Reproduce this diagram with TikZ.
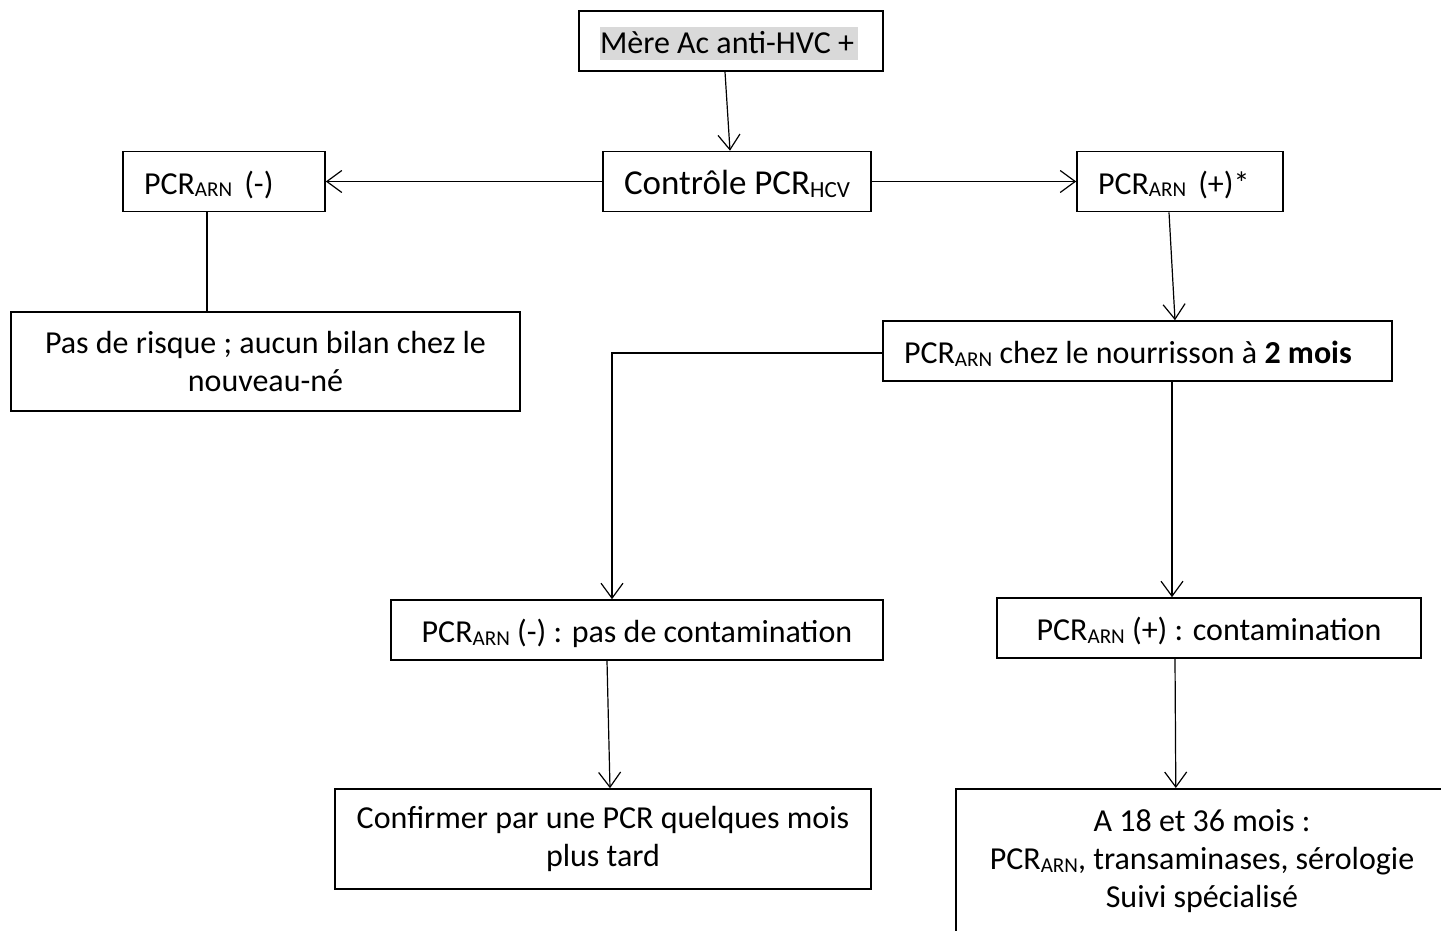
\documentclass[tikz,border=0pt]{standalone}
\usepackage{fontspec}
\setmainfont{Carlito}
\usetikzlibrary{arrows.meta}
\definecolor{hlgray}{RGB}{217,217,217}
\newcommand{\arnsub}[1]{\raisebox{-0.09em}{\scalebox{0.66}{#1}}}

\begin{document}
\begin{tikzpicture}[x=1pt, y=-1pt,
  every node/.style={font=\fontsize{32}{38}\selectfont},
  box/.style={draw, line width=1.6pt, minimum height=60pt, text height=28pt, text depth=3pt, inner sep=0pt},
  leftbox/.style={box, align=flush left, inner xsep=21pt, text width=#1},
  twobox/.style={draw, line width=1.6pt, align=center, inner sep=0pt},
  link/.style={line width=1.2pt},
  arrow/.style={link, -{Straight Barb[length=15pt, width=22pt, line width=1.2pt]}}]
\useasboundingbox (0,0) rectangle (1441,931);

% TOP ROW
\node[leftbox=262pt] (mere) at (731,41) {{\setlength{\fboxsep}{0pt}\colorbox{hlgray}{\rule[-7pt]{0pt}{33pt}Mère Ac anti-HVC +\hspace{4pt}}}};
\node[box, minimum width=268pt, font=\fontsize{35}{42}\selectfont] (ctrl) at (737,181.5) {Contrôle PCR\arnsub{HCV}};
\node[leftbox=160pt] (neg) at (224,181.5) {\mbox{PCR\arnsub{ARN}\hspace{12pt}(-)}};
\node[leftbox=164pt] (pos) at (1180,181.5) {\mbox{PCR\arnsub{ARN}\hspace{12pt}(+)*}};

% MIDDLE ROW
\node[twobox, minimum width=509pt, minimum height=99pt] (risk) at (265.5,361.5) {Pas de risque ; aucun bilan chez le\\nouveau-né};
\node[leftbox=467pt] (nour) at (1137.5,351) {\mbox{PCR\arnsub{ARN} chez le nourrisson à \textbf{2 mois}}};

% RESULTS
\node[box, minimum width=492pt] (negc) at (637,630) {PCR\arnsub{ARN} (-) : pas de contamination};
\node[box, minimum width=424pt] (posc) at (1209,628) {PCR\arnsub{ARN} (+) : contamination};

% FOLLOW-UP
\node[twobox, minimum width=536pt, minimum height=100pt] (conf) at (603,839) {Confirmer par une PCR quelques mois\\plus tard};
\node[draw, line width=1.6pt, anchor=north west, minimum width=494pt, minimum height=180pt] (res) at (955,788) {};
\node[align=center] (restext) at (1202,861) {A 18 et 36 mois :\\PCR\arnsub{ARN}, transaminases, sérologie\\Suivi spécialisé};

% CONNECTORS
\draw[arrow] ([xshift=-6pt]mere.south) -- ([xshift=-7pt]ctrl.north);
\draw[arrow] (ctrl.west) -- (neg.east);
\draw[arrow] (ctrl.east) -- (pos.west);
\draw[link] ([xshift=-17pt]neg.south) -- ([xshift=-58.5pt]risk.north);
\draw[arrow] ([xshift=-11pt]pos.south) -- ([xshift=37.5pt]nour.north);
\draw[arrow] ([yshift=-2pt]nour.west) -| ([xshift=-25pt]negc.north);
\draw[arrow] ([xshift=34.5pt]nour.south) -- ([xshift=-37pt]posc.north);
\draw[arrow] ([xshift=-30pt]negc.south) -- ([xshift=7pt]conf.north);
\draw[arrow] ([xshift=-34pt]posc.south) -- ([xshift=-27pt]res.north);
\end{tikzpicture}
\end{document}
